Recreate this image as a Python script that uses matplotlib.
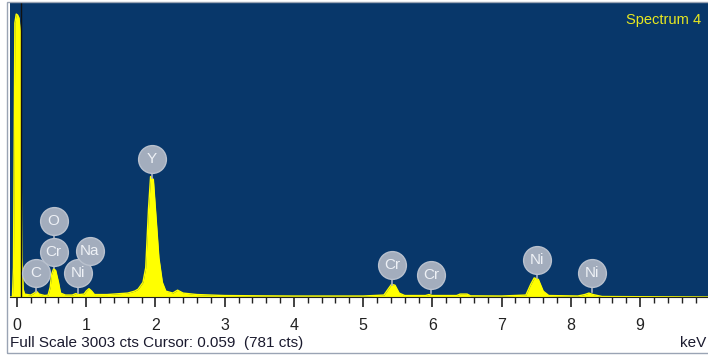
import matplotlib
matplotlib.use("Agg")
import matplotlib.pyplot as plt
from matplotlib.patches import Rectangle
from matplotlib.ticker import MultipleLocator

plt.rcParams['font.family'] = ['Liberation Sans', 'DejaVu Sans']

# Spectrum samples (keV, counts)
energy = [-0.10, -0.065, -0.05, -0.04, -0.03, -0.01, 0.01, 0.03, 0.05, 0.06, 0.07, 0.09, 0.11,
          0.15, 0.20, 0.25, 0.28, 0.32, 0.40, 0.45, 0.48, 0.50, 0.53, 0.56, 0.60, 0.63,
          0.70, 0.80, 0.85, 0.90, 0.97, 1.00, 1.04, 1.08, 1.12, 1.30, 1.50, 1.60, 1.70,
          1.75, 1.82, 1.86, 1.90, 1.93, 1.97, 2.00, 2.05, 2.10, 2.15, 2.25, 2.32, 2.40,
          2.60, 3.00, 3.50, 4.00, 4.50, 5.00, 5.30, 5.36, 5.41, 5.46, 5.52, 5.60, 5.90,
          5.95, 6.00, 6.35, 6.40, 6.50, 6.55, 7.00, 7.35, 7.42, 7.47, 7.53, 7.60, 7.68,
          8.10, 8.20, 8.26, 8.32, 8.45, 9.00, 10.0]
counts = [0, 0, 300, 1500, 2800, 2890, 2880, 2850, 2700, 1500, 400, 80, 30,
          25, 20, 40, 60, 30, 15, 20, 100, 230, 290, 270, 150, 40,
          20, 20, 35, 25, 30, 60, 85, 60, 25, 25, 35, 40, 60,
          80, 150, 300, 900, 1230, 1200, 900, 400, 150, 60, 40, 70, 40,
          25, 15, 12, 10, 10, 10, 20, 80, 130, 120, 40, 15, 15,
          25, 15, 15, 30, 30, 12, 10, 20, 130, 195, 180, 60, 15,
          10, 25, 40, 25, 5, 3, 0]

# Element labels: name, x position (keV), label height (counts), stem end (counts)
label_names = ['C', 'O', 'Cr', 'Ni', 'Na', 'Y', 'Cr', 'Cr', 'Ni', 'Ni']
label_x = [0.27, 0.53, 0.53, 0.88, 1.05, 1.95, 5.42, 5.98, 7.51, 8.30]
label_y = [245, 779, 460, 245, 470, 1405, 328, 225, 379, 246]
stem_end = [50, 460, 297, 40, 350, 1220, 123, 40, 195, 50]

full_scale = 3003
cursor_kev = 0.059

navy = '#08376a'
fig = plt.figure(figsize=(7.08, 3.60), dpi=100)
fig.patch.set_facecolor('white')
ax = fig.add_axes([10/708, 63/360, 698/708, 294/360])
ax.set_facecolor(navy)
ax.fill_between(energy, 0, counts, color='#ffff00', linewidth=0)
ax.plot(energy, counts, color='#ffff00', linewidth=1.0)
ax.axvline(cursor_kev, color='#111111', linewidth=1.0)

for name, lx, ly, se in zip(label_names, label_x, label_y, stem_end):
    ax.plot([lx, lx], [ly, se], color='#a9b2c2', linewidth=1.2, zorder=3)
for name, lx, ly, se in zip(label_names, label_x, label_y, stem_end):
    ax.scatter([lx], [ly], s=400, color='#a3adbd', edgecolors='#b9c1ce',
               linewidths=1.0, zorder=4)
    ax.text(lx, ly, name, color='#eef1f6', fontsize=11, ha='center', va='center',
            zorder=5)

ax.set_xlim(-0.10, 9.98)
ax.set_ylim(0, full_scale)
ax.set_yticks([])
ax.xaxis.set_major_locator(MultipleLocator(1))
ax.xaxis.set_minor_locator(MultipleLocator(0.2))
ax.set_xticks(range(0, 10))
ax.tick_params(axis='x', which='major', direction='out', length=7, width=1.2,
               color='#222222', labelsize=11.5, labelcolor='#222222', pad=8)
ax.tick_params(axis='x', which='minor', direction='out', length=4, width=1.0,
               color='#222222')
for side in ['top', 'left', 'right']:
    ax.spines[side].set_visible(False)
ax.spines['bottom'].set_color('#222222')

ax.text(0.99, 0.965, 'Spectrum 4', transform=ax.transAxes, color='#e8e820',
        fontsize=10.5, ha='right', va='top')

fig.text(10/708, 1 - 343/360, 'Full Scale 3003 cts Cursor: 0.059  (781 cts)',
         color='#1a1a2e', fontsize=11, ha='left', va='center')
fig.text(706/708, 1 - 343/360, 'keV', color='#1a1a2e', fontsize=11,
         ha='right', va='center')

fig.add_artist(Rectangle((7/708, 1 - 353/360), 705/708, 351/360,
                         transform=fig.transFigure, fill=False,
                         edgecolor='#9aa4b4', linewidth=1.0))

fig.savefig('out.png', dpi=100, facecolor='white')
